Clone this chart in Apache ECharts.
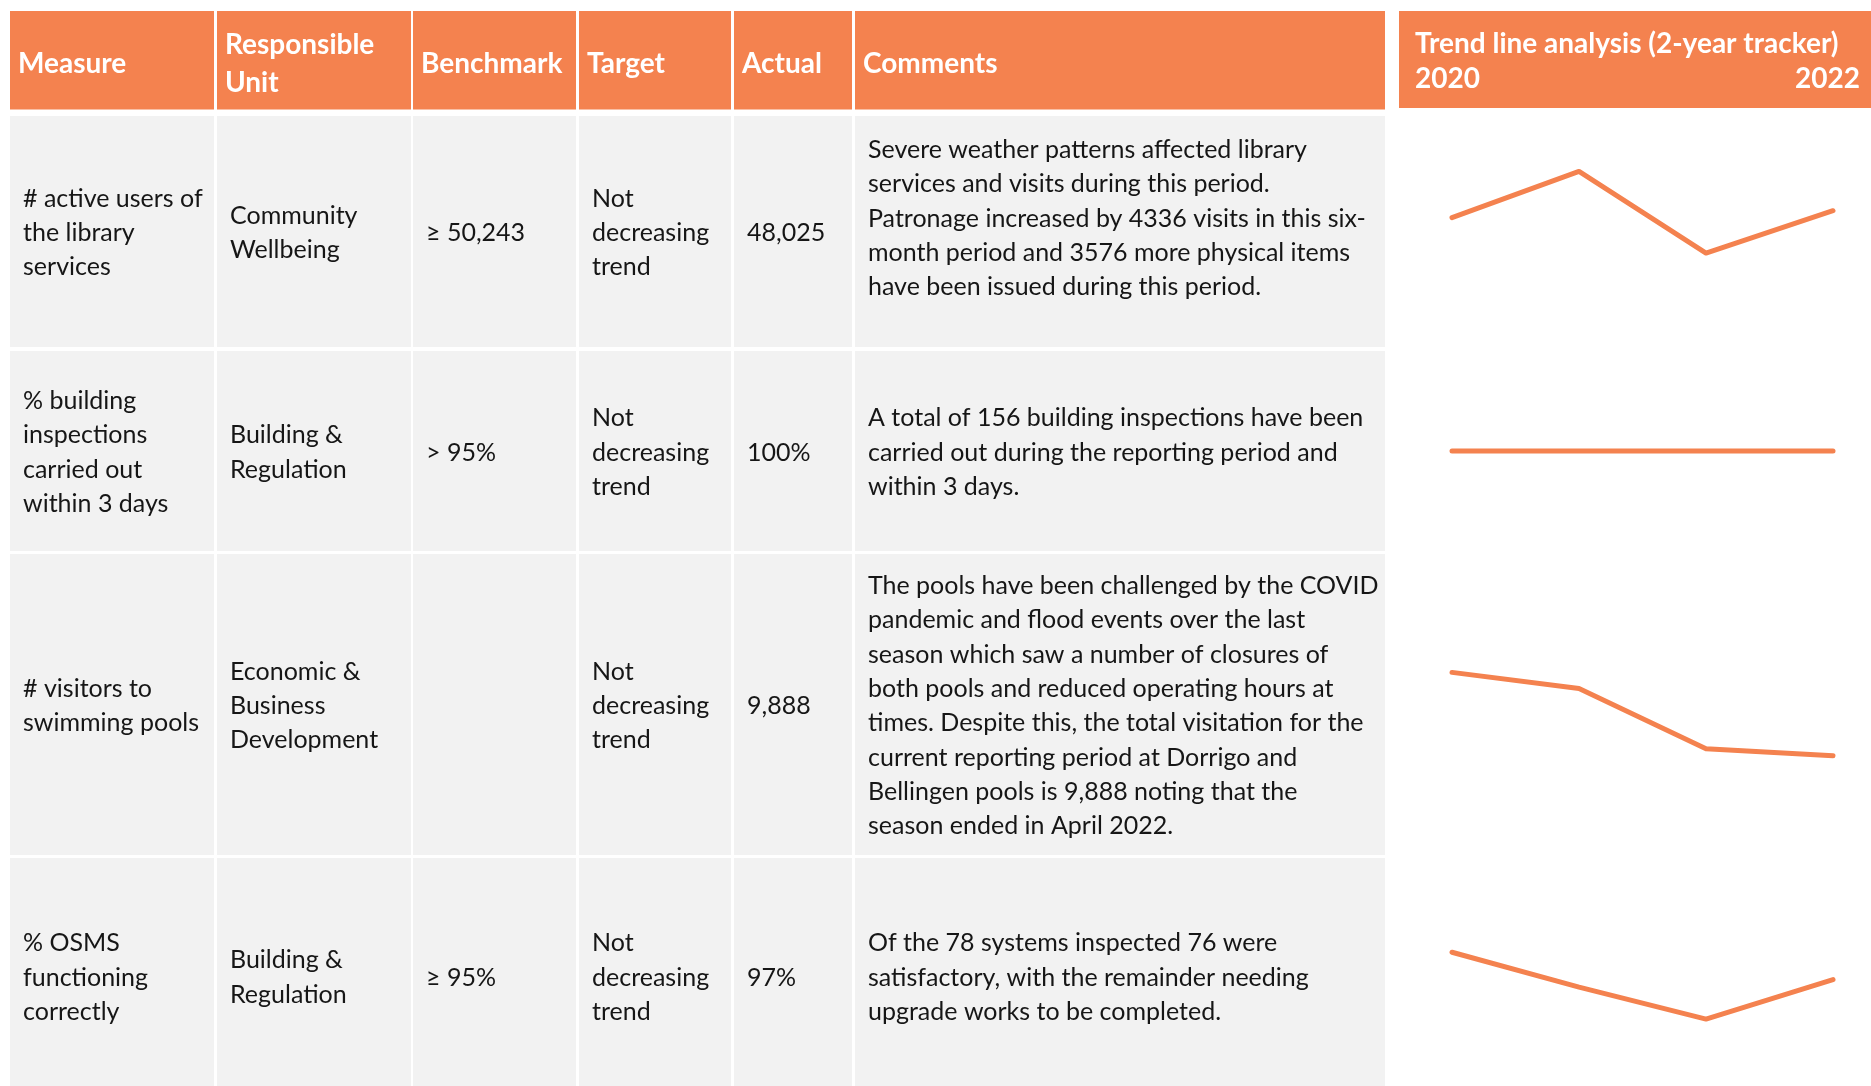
<!DOCTYPE html>
<html>
<head>
<meta charset="utf-8">
<script src="https://cdn.jsdelivr.net/npm/echarts@6/dist/echarts.min.js"></script>
<style>
  html, body { margin: 0; padding: 0; background: #fff; }
  #chart { width: 1871px; height: 1086px; }
</style>
</head>
<body>
<div id="chart"></div>
<script>
// data
const periods = ['H2 2020', 'H1 2021', 'H2 2021', 'H1 2022'];
const libraryUsers = [46800, 52800, 42200, 47700];
const inspectionsPct = [100, 100, 100, 100];
const poolVisitors = [18200, 16600, 10600, 9888];
const osmsPct = [98.8, 96.5, 94.4, 97];

const headers = ['Measure', 'Responsible\nUnit', 'Benchmark', 'Target', 'Actual', 'Comments'];
const trendTitle = 'Trend line analysis (2-year tracker)';
const trendFrom = '2020';
const trendTo = '2022';

const measures = [
  '# active users of\nthe library\nservices',
  '% building\ninspections\ncarried out\nwithin 3 days',
  '# visitors to\nswimming pools',
  '% OSMS\nfunctioning\ncorrectly'
];
const units = [
  'Community\nWellbeing',
  'Building &\nRegulation',
  'Economic &\nBusiness\nDevelopment',
  'Building &\nRegulation'
];
const benchmarks = ['\u2265 50,243', '> 95%', '', '\u2265 95%'];
const targets = ['Not\ndecreasing\ntrend', 'Not\ndecreasing\ntrend', 'Not\ndecreasing\ntrend', 'Not\ndecreasing\ntrend'];
const actuals = ['48,025', '100%', '9,888', '97%'];
const comments = [
  'Severe weather patterns affected library\nservices and visits during this period.\nPatronage increased by 4336 visits in this six-\nmonth period and 3576 more physical items\nhave been issued during this period.',
  'A total of 156 building inspections have been\ncarried out during the reporting period and\nwithin 3 days.',
  'The pools have been challenged by the COVID\npandemic and flood events over the last\nseason which saw a number of closures of\nboth pools and reduced operating hours at\ntimes. Despite this, the total visitation for the\ncurrent reporting period at Dorrigo and\nBellingen pools is 9,888 noting that the\nseason ended in April 2022.',
  'Of the 78 systems inspected 76 were\nsatisfactory, with the remainder needing\nupgrade works to be completed.'
];

const trendSeries = [libraryUsers, inspectionsPct, poolVisitors, osmsPct];
const trendMin = [30000, 90, 0, 90];
const trendMax = [60000, 110, 30000, 105];

// layout
const ORANGE = '#F4824F';
const GREY = '#F2F2F2';
const FONT = 'Lato, "Open Sans", sans-serif';
const cols = [[10, 214], [217, 411], [413, 576], [579, 731], [734, 852], [855, 1385]];
const headRow = [11, 109.5];
const rows = [[116, 347], [351, 551], [554, 855], [858, 1095]];
const gridRows = [[116, 231], [351, 200], [554, 301], [858, 228]];

let graphic = [];
for (let c = 0; c < cols.length; c++) {
  graphic.push({
    type: 'rect',
    shape: { x: cols[c][0], y: headRow[0], width: cols[c][1] - cols[c][0], height: headRow[1] - headRow[0] },
    style: { fill: ORANGE }
  });
  graphic.push({
    type: 'text',
    x: cols[c][0] + 8, y: 64,
    style: { text: headers[c], fill: '#fff', font: 'bold 28px ' + FONT, lineHeight: 38, verticalAlign: 'middle', align: 'left' }
  });
}
graphic.push({
  type: 'rect',
  shape: { x: 1399, y: 11, width: 472, height: 97 },
  style: { fill: ORANGE }
});
graphic.push({
  type: 'text', x: 1415, y: 44,
  style: { text: trendTitle, fill: '#fff', font: 'bold 28px ' + FONT, verticalAlign: 'middle', align: 'left' }
});
graphic.push({
  type: 'text', x: 1415, y: 79,
  style: { text: trendFrom, fill: '#fff', font: 'bold 28px ' + FONT, verticalAlign: 'middle', align: 'left' }
});
graphic.push({
  type: 'text', x: 1860, y: 79,
  style: { text: trendTo, fill: '#fff', font: 'bold 28px ' + FONT, verticalAlign: 'middle', align: 'right' }
});

let cellTexts = [measures, units, benchmarks, targets, actuals, comments];
for (let r = 0; r < rows.length; r++) {
  let cy = (rows[r][0] + rows[r][1]) / 2 + 1.5;
  if (r == 3) cy = 977.5;
  for (let c = 0; c < cols.length; c++) {
    graphic.push({
      type: 'rect',
      shape: { x: cols[c][0], y: rows[r][0], width: cols[c][1] - cols[c][0], height: rows[r][1] - rows[r][0] },
      style: { fill: GREY }
    });
    let ty = cy;
    if (r == 0 && c == 5) ty = 218.5;
    graphic.push({
      type: 'text',
      x: cols[c][0] + 13, y: ty,
      style: { text: cellTexts[c][r], fill: '#161616', font: '25px ' + FONT, lineHeight: 34.3, verticalAlign: 'middle', align: 'left' }
    });
  }
}

let grids = [], xAxes = [], yAxes = [], series = [];
for (let i = 0; i < trendSeries.length; i++) {
  grids.push({ left: 1452, width: 381, top: gridRows[i][0], height: gridRows[i][1] });
  xAxes.push({ type: 'category', gridIndex: i, data: periods, boundaryGap: false, show: false });
  yAxes.push({ type: 'value', gridIndex: i, min: trendMin[i], max: trendMax[i], show: false });
  series.push({
    type: 'line',
    xAxisIndex: i,
    yAxisIndex: i,
    data: trendSeries[i],
    symbol: 'none',
    lineStyle: { color: ORANGE, width: 5, cap: 'round', join: 'round' }
  });
}

let option = {
  animation: false,
  backgroundColor: '#fff',
  graphic: graphic,
  grid: grids,
  xAxis: xAxes,
  yAxis: yAxes,
  series: series
};
echarts.init(document.getElementById('chart')).setOption(option);
</script>
</body>
</html>
